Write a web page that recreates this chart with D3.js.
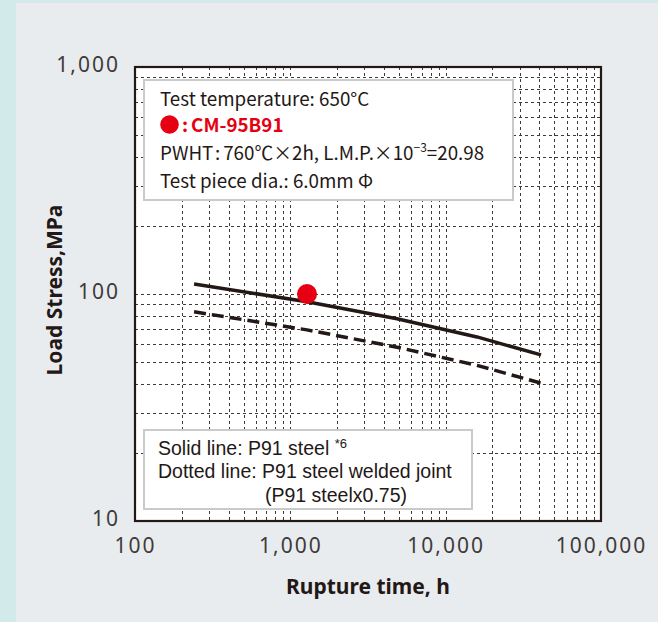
<!DOCTYPE html>
<html><head><meta charset="utf-8">
<script src="https://cdn.jsdelivr.net/npm/d3@7"></script>
<style>
html,body{margin:0;padding:0;background:#d3eaea;}
svg{display:block;}
</style></head><body>
<svg id="chart" width="658" height="622"></svg>
<script>
// ---- data ----
const xTicks = [100, 1000, 10000, 100000];
const xTickLabels = ["100", "1,000", "10,000", "100,000"];
const yTicks = [10, 100, 1000];
const yTickLabels = ["10", "100", "1,000"];
const solidTime = [240, 1280, 4860, 15900, 41100];
const solidStress = [110.7, 92.5, 77.8, 64.7, 53.9];
const dashedTime = [240, 1280, 4860, 15900, 41100];
const dashedStress = [83.5, 69.5, 58.3, 48.5, 40.5];
const pointTime = [1280];
const pointStress = [100];
const infoLines = ["Test temperature: 650°C", "CM-95B91", "PWHT", "760℃×2h, L.M.P.×10", "Test piece dia.: 6.0mm Φ"];
const legendLines = ["Solid line: P91 steel ", "Dotted line: P91 steel welded joint", "(P91 steelx0.75)"];

const svg = d3.select("#chart");
const ink = "#231815", grey = "#3e3a39", red = "#e60012";
const font = "'Noto Sans', 'Open Sans', sans-serif";
const tfont = "'Noto Sans CJK JP', 'Noto Sans', sans-serif";
const lfont = "'Liberation Sans', Arial, sans-serif";

svg.append("rect").attr("x", 16).attr("y", 3).attr("width", 642).attr("height", 619).attr("fill", "#e9ecef");

const L = 135, R = 601, T = 67, B = 521;
const x = d3.scaleLog().domain([100, 100000]).range([L, R]);
const y = d3.scaleLog().domain([10, 1000]).range([B, T]);

svg.append("rect").attr("x", L).attr("y", T).attr("width", R - L).attr("height", B - T).attr("fill", "#fff");

// grid
const xMinor = [];
[100, 1000, 10000].forEach(d => { for (let k = 2; k <= 9; k++) xMinor.push(d * k); });
const yMinor = [];
[10, 100].forEach(d => { for (let k = 2; k <= 9; k++) yMinor.push(d * k); });
yMinor.push(100);

const grid = svg.append("g").attr("stroke", grey).attr("stroke-width", 1).attr("stroke-dasharray", "3,3");
grid.selectAll("line.v").data(xMinor.concat([1000, 10000])).join("line")
  .attr("x1", d => Math.round(x(d)) + 0.5).attr("x2", d => Math.round(x(d)) + 0.5)
  .attr("y1", T).attr("y2", B);
grid.selectAll("line.h").data(yMinor).join("line")
  .attr("class", "h")
  .attr("y1", d => Math.round(y(d)) + 0.5).attr("y2", d => Math.round(y(d)) + 0.5)
  .attr("x1", L).attr("x2", R);

// lines
const line = d3.line().x(d => x(d[0])).y(d => y(d[1]));
svg.append("path").datum(solidTime.map((t, i) => [t, solidStress[i]]))
  .attr("d", line).attr("fill", "none").attr("stroke", ink).attr("stroke-width", 3.5);
svg.append("path").datum(dashedTime.map((t, i) => [t, dashedStress[i]]))
  .attr("d", line).attr("fill", "none").attr("stroke", ink).attr("stroke-width", 3.5)
  .attr("stroke-dasharray", "12,6");
svg.selectAll("circle.pt").data(pointTime).join("circle")
  .attr("cx", d => x(d)).attr("cy", (d, i) => y(pointStress[i])).attr("r", 10).attr("fill", red);

// info box
svg.append("rect").attr("x", 144).attr("y", 80).attr("width", 369).attr("height", 120)
  .attr("fill", "#fff").attr("stroke", "#c9caca").attr("stroke-width", 2);
const info = svg.append("g").attr("font-family", tfont).attr("font-size", 18.8).attr("fill", ink);
info.append("text").attr("x", 160).attr("y", 106).text(infoLines[0]);
info.append("circle").attr("cx", 169.5).attr("cy", 124.5).attr("r", 9.3).attr("fill", red);
const cm = info.append("text").attr("x", 182).attr("y", 132).attr("fill", red).attr("font-weight", 700);
cm.append("tspan").text(":");
cm.append("tspan").attr("dx", 3).text(infoLines[1]);
const pw = info.append("text").attr("x", 160).attr("y", 160);
pw.append("tspan").text(infoLines[2]);
pw.append("tspan").attr("dx", 2).text(":");
pw.append("tspan").attr("dx", 3).text(infoLines[3]);
pw.append("tspan").attr("font-size", 12).attr("dy", -8).text("−3");
pw.append("tspan").attr("dy", 8).text("=20.98");
info.append("text").attr("x", 160).attr("y", 188).text(infoLines[4]);

// legend box
svg.append("rect").attr("x", 144).attr("y", 430).attr("width", 328).attr("height", 79)
  .attr("fill", "#fff").attr("stroke", "#c9caca").attr("stroke-width", 2);
const leg = svg.append("g").attr("font-family", lfont).attr("font-size", 19.5).attr("fill", ink);
const l1 = leg.append("text").attr("x", 158).attr("y", 455).text(legendLines[0]);
l1.append("tspan").attr("font-size", 13).attr("dy", -7).text("*6");
leg.append("text").attr("x", 158).attr("y", 478).text(legendLines[1]);
leg.append("text").attr("x", 265).attr("y", 502).text(legendLines[2]);

// border
svg.append("rect").attr("x", L).attr("y", T).attr("width", R - L).attr("height", B - T)
  .attr("fill", "none").attr("stroke", ink).attr("stroke-width", 2.2);

// axes
const xAxis = d3.axisBottom(x).tickValues(xTicks).tickFormat((d, i) => xTickLabels[i]).tickSize(0).tickPadding(0);
const gx = svg.append("g").attr("transform", `translate(0,${B + 17})`).call(xAxis);
gx.select(".domain").remove();
gx.selectAll("text").attr("font-family", font).attr("font-size", 21).attr("letter-spacing", 2).attr("fill", grey);

const yAxis = d3.axisLeft(y).tickValues(yTicks).tickFormat((d, i) => yTickLabels[i]).tickSize(0).tickPadding(15);
const gy = svg.append("g").attr("transform", `translate(${L},-2)`).call(yAxis);
gy.select(".domain").remove();
gy.selectAll("text").attr("font-family", font).attr("font-size", 21).attr("letter-spacing", 2).attr("fill", grey);

svg.append("text").attr("x", (L + R) / 2).attr("y", 594).attr("text-anchor", "middle")
  .attr("font-family", font).attr("font-size", 21).attr("font-weight", 700).attr("fill", ink)
  .text("Rupture time, h");
svg.append("text").attr("transform", `translate(62,${(T + B) / 2 - 4}) rotate(-90)`).attr("text-anchor", "middle")
  .attr("font-family", font).attr("font-size", 21).attr("font-weight", 700).attr("fill", ink)
  .text("Load Stress,MPa");
</script>
</body></html>
